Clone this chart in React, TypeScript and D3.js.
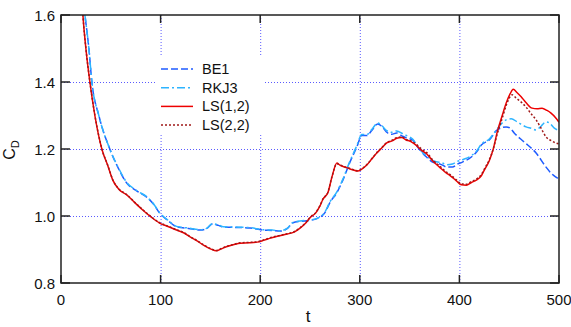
import React, { useEffect, useRef } from 'react';
import * as d3 from 'd3';

// [t, CD] samples
const be1: [number, number][] = [
  [22, 1.65], [24, 1.6], [28, 1.5], [31, 1.4], [38, 1.3], [49, 1.2], [58, 1.14], [66, 1.098],
  [76, 1.075], [87, 1.054], [93, 1.035], [99, 1.009], [108, 0.985], [116, 0.968], [128, 0.963],
  [140, 0.958], [146, 0.962], [152, 0.976], [158, 0.972], [163, 0.967], [175, 0.966], [190, 0.964],
  [203, 0.958], [212, 0.957], [220, 0.955], [227, 0.962], [233, 0.98], [240, 0.984], [250, 0.987],
  [257, 0.992], [265, 1.01], [270, 1.04], [277, 1.07], [283, 1.107], [290, 1.16], [297, 1.206],
  [302, 1.24], [307, 1.24], [312, 1.255], [318, 1.275], [322, 1.268], [327, 1.25], [332, 1.244],
  [337, 1.248], [343, 1.238], [347, 1.233], [353, 1.227], [358, 1.206], [363, 1.188], [367, 1.176],
  [373, 1.161], [377, 1.158], [383, 1.152], [387, 1.146], [393, 1.146], [398, 1.155], [403, 1.161],
  [412, 1.176], [417, 1.19], [422, 1.212], [430, 1.227], [438, 1.257], [447, 1.266], [451, 1.262],
  [455, 1.248], [465, 1.221], [477, 1.188], [487, 1.146], [492, 1.128], [497, 1.116], [500, 1.11],
];

const rkj3: [number, number][] = [
  [22, 1.65], [24, 1.6], [28, 1.5], [31, 1.4], [38, 1.3], [49, 1.2], [58, 1.142], [66, 1.1],
  [76, 1.076], [87, 1.055], [93, 1.036], [99, 1.01], [108, 0.986], [116, 0.969], [128, 0.964],
  [140, 0.959], [146, 0.963], [152, 0.977], [158, 0.973], [163, 0.968], [175, 0.967], [190, 0.965],
  [203, 0.959], [212, 0.958], [220, 0.956], [227, 0.963], [233, 0.981], [240, 0.985], [250, 0.988],
  [257, 0.993], [265, 1.012], [270, 1.042], [277, 1.072], [283, 1.11], [290, 1.163], [297, 1.21],
  [302, 1.243], [307, 1.243], [312, 1.258], [318, 1.278], [322, 1.27], [327, 1.255], [332, 1.25],
  [337, 1.254], [343, 1.246], [347, 1.24], [353, 1.23], [358, 1.208], [363, 1.19], [367, 1.18],
  [373, 1.166], [377, 1.162], [383, 1.158], [387, 1.153], [393, 1.155], [398, 1.163], [403, 1.168],
  [412, 1.18], [417, 1.193], [422, 1.214], [430, 1.23], [438, 1.26], [443, 1.278], [447, 1.287],
  [452, 1.29], [458, 1.281], [463, 1.272], [467, 1.266], [472, 1.262], [477, 1.257], [482, 1.268],
  [487, 1.281], [491, 1.276], [495, 1.263], [500, 1.255],
];

const ls12: [number, number][] = [
  [21, 1.65], [22, 1.6], [25, 1.5], [29, 1.4], [34, 1.3], [41, 1.2], [47, 1.15], [52, 1.107],
  [58, 1.08], [66, 1.063], [74, 1.04], [82, 1.018], [90, 0.998], [99, 0.979], [108, 0.968],
  [116, 0.958], [123, 0.95], [130, 0.937], [137, 0.925], [143, 0.913], [150, 0.902], [156, 0.896],
  [161, 0.902], [166, 0.908], [173, 0.914], [180, 0.919], [188, 0.92], [197, 0.922], [204, 0.928],
  [210, 0.934], [218, 0.94], [227, 0.946], [234, 0.952], [240, 0.964], [246, 0.98], [250, 0.995],
  [256, 1.01], [260, 1.03], [263, 1.05], [268, 1.07], [272, 1.116], [277, 1.158], [280, 1.152],
  [284, 1.147], [288, 1.143], [293, 1.138], [298, 1.134], [302, 1.14], [307, 1.152], [312, 1.17],
  [317, 1.188], [322, 1.203], [327, 1.218], [333, 1.225], [337, 1.232], [342, 1.234], [347, 1.226],
  [350, 1.224], [357, 1.21], [362, 1.196], [367, 1.186], [373, 1.165], [380, 1.146], [387, 1.128],
  [390, 1.122], [397, 1.105], [402, 1.093], [407, 1.092], [412, 1.1], [417, 1.107], [422, 1.12],
  [425, 1.137], [430, 1.165], [434, 1.2], [438, 1.251], [443, 1.3], [447, 1.337], [451, 1.365],
  [454, 1.378], [458, 1.368], [462, 1.356], [467, 1.338], [473, 1.322], [478, 1.32], [483, 1.322],
  [488, 1.315], [492, 1.307], [497, 1.292], [500, 1.28],
];

const ls22: [number, number][] = [
  [21, 1.65], [22, 1.6], [25, 1.5], [29, 1.401], [34, 1.301], [41, 1.201], [47, 1.151], [52, 1.108],
  [58, 1.081], [66, 1.064], [74, 1.041], [82, 1.019], [90, 0.999], [99, 0.98], [108, 0.969],
  [116, 0.959], [123, 0.951], [130, 0.938], [137, 0.926], [143, 0.914], [150, 0.903], [156, 0.897],
  [161, 0.903], [166, 0.909], [173, 0.915], [180, 0.92], [188, 0.921], [197, 0.923], [204, 0.929],
  [210, 0.935], [218, 0.941], [227, 0.947], [234, 0.953], [240, 0.965], [246, 0.981], [250, 0.996],
  [256, 1.011], [260, 1.031], [263, 1.051], [268, 1.071], [272, 1.117], [277, 1.156], [280, 1.153],
  [284, 1.148], [288, 1.144], [293, 1.139], [298, 1.135], [302, 1.141], [307, 1.153], [312, 1.171],
  [317, 1.189], [322, 1.204], [327, 1.219], [333, 1.227], [337, 1.234], [342, 1.236], [347, 1.228],
  [350, 1.226], [357, 1.213], [362, 1.2], [367, 1.19], [373, 1.168], [380, 1.15], [387, 1.131],
  [390, 1.125], [397, 1.108], [402, 1.096], [407, 1.095], [412, 1.103], [417, 1.11], [422, 1.124],
  [425, 1.14], [430, 1.168], [434, 1.2], [438, 1.245], [443, 1.292], [447, 1.33], [450, 1.352],
  [453, 1.362], [457, 1.352], [462, 1.34], [467, 1.325], [472, 1.305], [477, 1.287], [482, 1.262],
  [487, 1.236], [492, 1.225], [497, 1.218], [500, 1.215],
];

const seriesNames = ['BE1', 'RKJ3', 'LS(1,2)', 'LS(2,2)'];
const xTicks = [0, 100, 200, 300, 400, 500];
const yTicks = [0.8, 1.0, 1.2, 1.4, 1.6];

const font = '"Liberation Sans", Arial, sans-serif';

export default function App() {
  const ref = useRef<SVGSVGElement>(null);

  useEffect(() => {
    const left = 61, right = 559, top = 15, bottom = 283;
    const x = d3.scaleLinear().domain([0, 500]).range([left, right]);
    const y = d3.scaleLinear().domain([0.8, 1.6]).range([bottom, top]);

    const svg = d3.select(ref.current);
    svg.selectAll('*').remove();

    svg.append('defs').append('clipPath').attr('id', 'plot')
      .append('rect')
      .attr('x', left).attr('y', top)
      .attr('width', right - left).attr('height', bottom - top);

    // dotted grid
    const grid = svg.append('g')
      .attr('stroke', '#5a5aff')
      .attr('stroke-width', 1)
      .attr('stroke-dasharray', '1,2');
    grid.selectAll('.gx')
      .data(xTicks.filter((d) => d > 0 && d < 500))
      .enter().append('line')
      .attr('x1', (d) => x(d) + 0.5).attr('x2', (d) => x(d) + 0.5)
      .attr('y1', top).attr('y2', bottom);
    grid.selectAll('.gy')
      .data(yTicks.filter((d) => d > 0.8 && d < 1.6))
      .enter().append('line')
      .attr('x1', left).attr('x2', right)
      .attr('y1', (d) => Math.round(y(d)) + 0.5).attr('y2', (d) => Math.round(y(d)) + 0.5);

    // legend box hides the grid
    svg.append('rect')
      .attr('x', 157).attr('y', 57)
      .attr('width', 106).attr('height', 77)
      .attr('fill', 'white');

    const styles = [
      { color: '#1f5cff', dash: '7,3' },
      { color: '#2db4ff', dash: '8,3,2,3' },
      { color: '#ee0000', dash: null },
      { color: '#a01818', dash: '2,2' },
    ];
    const all = [be1, rkj3, ls12, ls22];

    const line = d3.line<[number, number]>()
      .x((d) => x(d[0]))
      .y((d) => y(d[1]))
      .curve(d3.curveMonotoneX);

    const lines = svg.append('g').attr('clip-path', 'url(#plot)');
    all.forEach((data, i) => {
      lines.append('path')
        .attr('d', line(data))
        .attr('fill', 'none')
        .attr('stroke', styles[i].color)
        .attr('stroke-width', 1.5)
        .attr('stroke-dasharray', styles[i].dash);
    });

    // legend
    const legend = svg.append('g');
    seriesNames.forEach((name, i) => {
      const ly = 69 + i * 18.7;
      legend.append('line')
        .attr('x1', 161).attr('x2', 193)
        .attr('y1', ly).attr('y2', ly)
        .attr('stroke', styles[i].color)
        .attr('stroke-width', 1.5)
        .attr('stroke-dasharray', styles[i].dash);
      legend.append('text')
        .attr('x', 202).attr('y', ly + 5)
        .attr('font-family', font)
        .attr('font-size', 14.5)
        .attr('fill', '#111')
        .text(name);
    });

    // frame and ticks
    const axes = svg.append('g').attr('stroke', '#222').attr('stroke-width', 1.5);
    axes.append('rect')
      .attr('x', left).attr('y', top)
      .attr('width', right - left).attr('height', bottom - top)
      .attr('fill', 'none');
    xTicks.forEach((t) => {
      axes.append('line').attr('x1', x(t)).attr('x2', x(t)).attr('y1', bottom).attr('y2', bottom - 8);
      axes.append('line').attr('x1', x(t)).attr('x2', x(t)).attr('y1', top).attr('y2', top + 8);
    });
    yTicks.forEach((v) => {
      axes.append('line').attr('x1', left).attr('x2', left + 9).attr('y1', y(v)).attr('y2', y(v));
      axes.append('line').attr('x1', right).attr('x2', right - 9).attr('y1', y(v)).attr('y2', y(v));
    });

    const labels = svg.append('g')
      .attr('font-family', font)
      .attr('font-size', 15)
      .attr('fill', '#111');
    labels.selectAll('.xl')
      .data(xTicks)
      .enter().append('text')
      .attr('x', (d) => x(d))
      .attr('y', 305)
      .attr('text-anchor', 'middle')
      .text((d) => d);
    labels.selectAll('.yl')
      .data(yTicks)
      .enter().append('text')
      .attr('x', 55)
      .attr('y', (d) => y(d) + 5.5)
      .attr('text-anchor', 'end')
      .text((d) => d3.format('.1f')(d));

    labels.append('text')
      .attr('x', 308).attr('y', 322)
      .attr('text-anchor', 'middle')
      .attr('font-size', 17)
      .text('t');

    const cd = labels.append('text')
      .attr('transform', 'translate(15,150) rotate(-90)')
      .attr('text-anchor', 'middle')
      .attr('font-size', 16);
    cd.append('tspan').text('C');
    cd.append('tspan').attr('dy', 4).attr('font-size', 11).text('D');
  });

  return (
    <div>
      <svg ref={ref} width={571} height={327}
        style={{ position: 'absolute', left: 0, top: 0, background: 'white' }}></svg>
    </div>
  );
}
